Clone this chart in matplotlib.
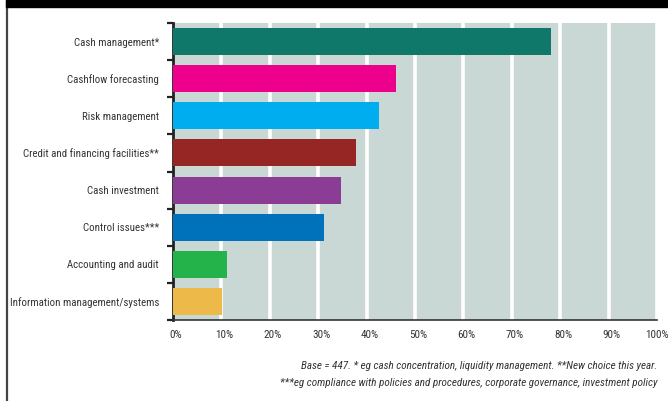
import matplotlib
matplotlib.use("Agg")
import matplotlib.pyplot as plt
import matplotlib.transforms as mtransforms
from matplotlib import font_manager
from matplotlib.lines import Line2D
from matplotlib.patches import Rectangle

# pick a condensed sans if one is installed
installed = {f.name for f in font_manager.fontManager.ttflist}
narrow = [n for n in ['Roboto Condensed', 'Archivo Narrow', 'PT Sans Narrow',
                      'Arial Narrow', 'Liberation Sans Narrow', 'Fira Sans Condensed',
                      'IBM Plex Sans Condensed', 'Encode Sans Condensed']
          if n in installed]
plt.rcParams['font.family'] = narrow[:1] + ['DejaVu Sans']

categories = ['Cash management*', 'Cashflow forecasting', 'Risk management',
              'Credit and financing facilities**', 'Cash investment',
              'Control issues***', 'Accounting and audit',
              'Information management/systems']
values = [78.2, 46.0, 42.5, 37.8, 34.7, 31.1, 11.2, 10.1]
colors = ['#10776b', '#ec008c', '#00aeef', '#952624', '#8b3d96',
          '#0071bb', '#24b24b', '#edb948']
xticks = list(range(0, 101, 10))
xlabels = [f'{t}%' for t in xticks]
note1 = 'Base = 447. * eg cash concentration, liquidity management. **New choice this year.'
note2 = '***eg compliance with policies and procedures, corporate governance, investment policy'

fig = plt.figure(figsize=(6.68, 4.01), dpi=100)
W, H = 668, 401
left, right, top, bottom = 173, 657, 23, 320
ax = fig.add_axes([left / W, 1 - bottom / H, (right - left) / W, (bottom - top) / H])

ax.set_facecolor('#c9d8d5')
y = list(range(len(categories)))
ax.barh(y, values, height=0.73, color=colors, zorder=3)
ax.set_ylim(len(categories) - 0.5, -0.5)
ax.set_xlim(0, 100)

# white separators every 10%
for t in xticks[1:]:
    ax.axvline(t, color='white', lw=2.6, zorder=2)

ax.set_yticks(y)
ax.set_yticklabels(categories, fontsize=7.8, color='#333333')
ax.tick_params(axis='y', length=0, pad=10)
# small ticks between categories
ax.set_yticks([i - 0.5 for i in range(len(categories) + 1)], minor=True)
ax.tick_params(axis='y', which='minor', length=4, width=1.6, color='#222222')

ax.set_xticks(xticks)
ax.set_xticklabels(xlabels, fontsize=8, color='#333333')
ax.tick_params(axis='x', length=0, pad=7)
offset = mtransforms.ScaledTranslation(3 / 100, 0, fig.dpi_scale_trans)
for lab in ax.get_xticklabels()[:-1]:
    lab.set_transform(lab.get_transform() + offset)

for s in ['top', 'right']:
    ax.spines[s].set_visible(False)
ax.spines['left'].set_linewidth(2)
ax.spines['left'].set_color('#222222')
ax.spines['bottom'].set_linewidth(1.2)
ax.spines['bottom'].set_color('#333333')

fig.text(right / W, 1 - 366 / H, note1, ha='right', va='center',
         fontsize=8, style='italic', color='#333333')
fig.text(right / W, 1 - 383 / H, note2, ha='right', va='center',
         fontsize=8, style='italic', color='#333333')

# frame: black band on top and a dark line down the left side
fig.patches.append(Rectangle((6 / W, 1 - 7 / H), 1, 7 / H, transform=fig.transFigure,
                             color='black', zorder=10))
fig.lines.append(Line2D([7 / W, 7 / W], [0, 1], transform=fig.transFigure,
                        color='#444444', lw=1.6, zorder=10))

fig.savefig('out.png', dpi=100)
